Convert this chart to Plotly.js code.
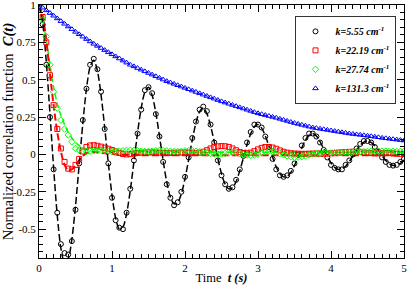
<!DOCTYPE html>
<html>
<head>
<meta charset="utf-8">
<script src="https://cdn.plot.ly/plotly-3.0.1.min.js"></script>
<style>html,body{margin:0;padding:0;background:#fff;}#chart{width:407px;height:285px;}</style>
</head>
<body>
<div id="chart"></div>
<script>
// time grid of the measured points (s)
var tData = [0,0.05,0.1,0.15,0.2,0.25,0.3,0.35,0.4,0.45,0.5,0.55,0.6,0.65,0.7,0.75,0.8,0.85,0.9,0.95,
1,1.05,1.1,1.15,1.2,1.25,1.3,1.35,1.4,1.45,1.5,1.55,1.6,1.65,1.7,1.75,1.8,1.85,1.9,1.95,
2,2.05,2.1,2.15,2.2,2.25,2.3,2.35,2.4,2.45,2.5,2.55,2.6,2.65,2.7,2.75,2.8,2.85,2.9,2.95,
3,3.05,3.1,3.15,3.2,3.25,3.3,3.35,3.4,3.45,3.5,3.55,3.6,3.65,3.7,3.75,3.8,3.85,3.9,3.95,
4,4.05,4.1,4.15,4.2,4.25,4.3,4.35,4.4,4.45,4.5,4.55,4.6,4.65,4.7,4.75,4.8,4.85,4.9,4.95,5];

// k = 5.55 cm^-1 : measured points and fit
var k1Data = [1.000,0.870,0.600,0.250,-0.100,-0.390,-0.600,-0.660,-0.670,-0.580,-0.370,-0.060,0.230,0.440,0.600,0.640,0.570,0.420,0.170,-0.060,
-0.290,-0.440,-0.490,-0.500,-0.390,-0.230,-0.040,0.140,0.300,0.430,0.450,0.410,0.270,0.120,-0.050,-0.200,-0.290,-0.340,-0.320,-0.250,
-0.150,-0.020,0.110,0.220,0.300,0.320,0.290,0.200,0.080,-0.040,-0.140,-0.200,-0.230,-0.220,-0.170,-0.100,-0.010,0.080,0.150,0.200,
0.200,0.180,0.120,0.050,-0.030,-0.100,-0.140,-0.150,-0.140,-0.110,-0.060,0.000,0.060,0.110,0.140,0.140,0.120,0.080,0.030,-0.020,
-0.070,-0.090,-0.100,-0.100,-0.070,-0.040,0.000,0.040,0.070,0.090,0.090,0.080,0.050,0.020,-0.020,-0.050,-0.070,-0.075,-0.070,-0.050,-0.030];
var k1Fit = [1.000,0.880,0.619,0.274,-0.089,-0.407,-0.628,-0.723,-0.698,-0.568,-0.345,-0.071,0.206,0.438,0.586,0.630,0.560,0.398,0.179,-0.059,
-0.272,-0.426,-0.498,-0.486,-0.396,-0.242,-0.050,0.145,0.310,0.417,0.450,0.396,0.280,0.124,-0.040,-0.185,-0.286,-0.331,-0.322,-0.264,
-0.162,-0.034,0.098,0.211,0.286,0.310,0.273,0.193,0.086,-0.028,-0.129,-0.199,-0.230,-0.223,-0.181,-0.110,-0.023,0.066,0.139,0.186,
0.200,0.176,0.125,0.056,-0.018,-0.084,-0.129,-0.150,-0.146,-0.120,-0.074,-0.015,0.044,0.096,0.129,0.140,0.123,0.086,0.038,-0.012,
-0.057,-0.087,-0.101,-0.097,-0.079,-0.049,-0.010,0.029,0.062,0.083,0.090,0.080,0.058,0.026,-0.009,-0.040,-0.063,-0.074,-0.073,-0.060,-0.037];

// k = 22.19 cm^-1
var k2Data = [1.000,0.920,0.750,0.530,0.330,0.170,0.040,-0.050,-0.095,-0.100,-0.070,-0.030,0.020,0.050,0.060,0.062,0.058,0.052,0.045,0.038,
0.030,0.020,0.010,0.003,0.000,0.002,0.006,0.010,0.012,0.013,0.014,0.014,0.013,0.012,0.011,0.010,0.010,0.011,0.012,0.013,
0.014,0.013,0.012,0.010,0.012,0.018,0.028,0.040,0.050,0.054,0.056,0.055,0.050,0.040,0.028,0.016,0.010,0.008,0.012,0.022,
0.034,0.044,0.050,0.050,0.046,0.038,0.027,0.018,0.012,0.008,0.006,0.005,0.004,0.004,0.005,0.006,0.006,0.005,0.005,0.006,
0.008,0.010,0.012,0.014,0.016,0.017,0.018,0.017,0.015,0.013,0.011,0.009,0.008,0.008,0.009,0.010,0.009,0.007,0.005,0.004,0.004];
var k2FitT = [0,0.05,0.1,0.15,0.2,0.25,0.3,0.35,0.4,0.45,0.5,0.55,0.6,0.65,0.7,0.75,0.8,0.9,1.0,1.2,1.5,2,2.5,3,3.5,4,4.5,5];
var k2Fit  = [1.000,0.930,0.760,0.540,0.330,0.150,0.020,-0.070,-0.105,-0.100,-0.075,-0.040,-0.010,0.008,0.015,0.016,0.014,0.008,0.003,-0.003,-0.005,-0.005,-0.005,-0.005,-0.005,-0.005,-0.005,-0.005];

// k = 27.74 cm^-1
var k3Data = [1.000,0.900,0.790,0.600,0.420,0.310,0.230,0.170,0.130,0.085,0.040,0.030,0.025,0.020,0.022,0.025,0.026,0.027,0.025,0.022,
0.020,0.020,0.022,0.025,0.027,0.028,0.027,0.025,0.022,0.020,0.020,0.022,0.025,0.027,0.026,0.024,0.021,0.019,0.019,0.021,
0.024,0.026,0.025,0.022,0.018,0.014,0.010,0.006,0.004,0.003,0.004,0.007,0.011,0.015,0.012,0.006,0.000,-0.004,-0.006,-0.004,
0.002,0.010,0.018,0.022,0.020,0.014,0.006,-0.002,-0.010,-0.015,-0.018,-0.018,-0.015,-0.010,-0.004,0.002,0.006,0.008,0.009,0.009,
0.010,0.011,0.012,0.013,0.014,0.015,0.016,0.017,0.018,0.019,0.020,0.021,0.021,0.022,0.022,0.022,0.021,0.021,0.020,0.020,0.020];
var k3FitT = [0,0.05,0.1,0.15,0.2,0.25,0.3,0.35,0.4,0.45,0.5,0.55,0.6,0.65,0.7,0.8,0.9,1.0,1.2,1.5,2,2.5,3,3.5,4,4.5,5];
var k3Fit  = [1.000,0.900,0.770,0.600,0.450,0.340,0.260,0.200,0.150,0.110,0.080,0.060,0.045,0.038,0.034,0.030,0.027,0.025,0.020,0.017,0.015,0.015,0.015,0.015,0.015,0.015,0.015];

// k = 131.3 cm^-1
var k4Data = [1.000,0.982,0.964,0.946,0.928,0.910,0.892,0.874,0.856,0.838,0.820,0.804,0.788,0.772,0.756,0.740,0.726,0.712,0.698,0.684,
0.670,0.656,0.642,0.628,0.614,0.600,0.589,0.578,0.567,0.556,0.545,0.534,0.523,0.512,0.501,0.490,0.481,0.472,0.463,0.454,
0.445,0.436,0.427,0.418,0.409,0.400,0.391,0.382,0.373,0.364,0.355,0.347,0.339,0.331,0.323,0.315,0.307,0.299,0.291,0.283,
0.275,0.269,0.263,0.257,0.251,0.245,0.238,0.231,0.224,0.217,0.210,0.204,0.198,0.192,0.186,0.180,0.176,0.172,0.168,0.164,
0.160,0.156,0.152,0.148,0.144,0.140,0.137,0.134,0.131,0.128,0.125,0.122,0.118,0.115,0.111,0.108,0.105,0.102,0.099,0.096,0.093];
var k4FitT = [0,0.25,0.5,0.75,1,1.25,1.5,1.75,2,2.25,2.5,2.75,3,3.25,3.5,3.75,4,4.25,4.5,4.75,5];
var k4Fit  = [1.000,0.910,0.820,0.740,0.670,0.600,0.545,0.490,0.445,0.400,0.355,0.315,0.275,0.245,0.210,0.180,0.160,0.140,0.125,0.108,0.093];

var names = ['<b><i>k=5.55 cm<sup>-1</sup></i></b>','<b><i>k=22.19 cm<sup>-1</sup></i></b>','<b><i>k=27.74 cm<sup>-1</sup></i></b>','<b><i>k=131.3 cm<sup>-1</sup></i></b>'];
var yTickVals = [-0.5,-0.25,0,0.25,0.5,0.75,1];
var yTickText = ['-0.5','-0.25','0','0.25','0.5','0.75','1'];
var xTickVals = [0,1,2,3,4,5];
var xTickText = ['0','1','2','3','4','5'];

var serif = 'Liberation Serif, Times New Roman, serif';
function fit(x, y, color, w, dash) {
  return {x: x, y: y, mode: 'lines', showlegend: false, hoverinfo: 'skip',
          line: {color: color, width: w, dash: dash, shape: 'spline', smoothing: 0.8}};
}
function pts(x, y, color, symbol, name) {
  return {x: x, y: y, mode: 'markers', name: name,
          marker: {symbol: symbol, size: 5, color: color, line: {color: color, width: 1}}};
}
var traces = [
  fit(k4FitT, k4Fit, '#0000ff', 1, '4px,3px'),
  fit(k3FitT, k3Fit, '#00ff00', 1.5, '6px,3px'),
  fit(k2FitT, k2Fit, '#ff0000', 2, '7px,3px'),
  fit(tData, k1Fit, '#000000', 1.5, '7px,3px'),
  pts(tData, k1Data, '#000000', 'circle-open', names[0]),
  pts(tData, k2Data, '#ff0000', 'square-open', names[1]),
  pts(tData, k3Data, '#00ff00', 'diamond-open', names[2]),
  pts(tData, k4Data, '#0000ff', 'triangle-up-open', names[3])
];
var axisCommon = {
  showline: true, mirror: 'ticks', linecolor: '#000', linewidth: 1,
  ticks: 'inside', ticklen: 7, tickwidth: 1, tickcolor: '#000',
  showgrid: false, zeroline: false, ticklabeloverflow: 'allow',
  tickfont: {family: serif, size: 11, color: '#000'}
};
var layout = {
  width: 407, height: 285,
  margin: {l: 39, r: 3, t: 5, b: 27},
  paper_bgcolor: '#fff', plot_bgcolor: '#fff',
  font: {family: serif, color: '#000'},
  xaxis: Object.assign({}, axisCommon, {
    range: [0, 5], tickmode: 'array', tickvals: xTickVals, ticktext: xTickText,
    minor: {dtick: 0.1, ticklen: 4, ticks: 'inside', tickcolor: '#000'},
    title: {text: 'Time  <b><i>t (s)</i></b>', font: {family: serif, size: 12.5}, standoff: 2}
  }),
  yaxis: Object.assign({}, axisCommon, {
    range: [-0.693, 1.0], tickmode: 'array', tickvals: yTickVals, ticktext: yTickText,
    minor: {dtick: 0.05, tick0: 0, ticklen: 4, ticks: 'inside', tickcolor: '#000'},
    title: {text: 'Normalized correlation function  <b><i>C(t)</i></b>\u00a0\u00a0\u00a0\u00a0\u00a0', font: {family: serif, size: 14.5}, standoff: 4}
  }),
  legend: {x: 0.70, y: 0.957, xanchor: 'left', yanchor: 'top', bgcolor: '#fff',
           bordercolor: '#333', borderwidth: 1, font: {family: serif, size: 10, color: '#000'},
           tracegroupgap: 0, itemsizing: 'trace', itemwidth: 30},
  showlegend: true
};
Plotly.newPlot('chart', traces, layout, {displayModeBar: false, staticPlot: true});
</script>
</body>
</html>
